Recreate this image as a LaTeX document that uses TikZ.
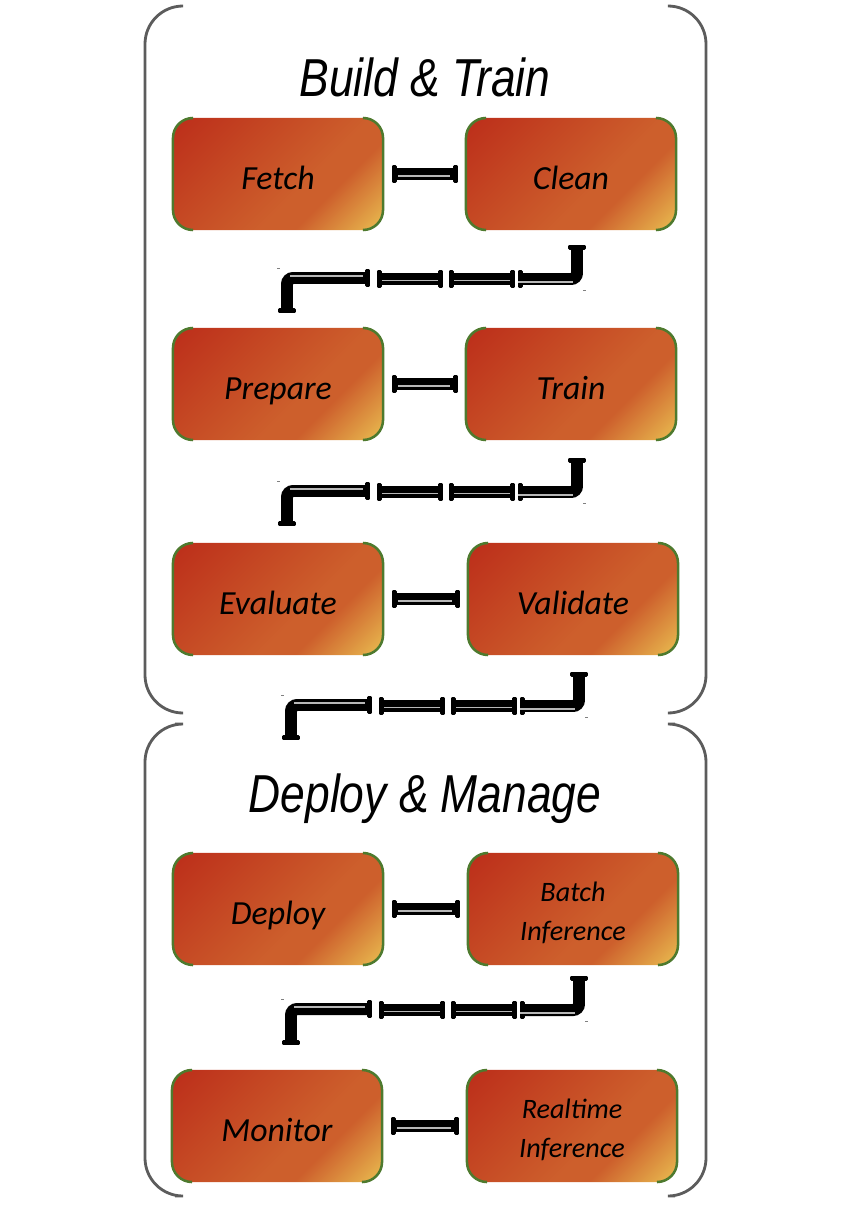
\documentclass[tikz,border=0pt]{standalone}
\usepackage{fontspec}
\usetikzlibrary{arrows.meta}
\newfontfamily\titlefont[FakeStretch=0.83]{Liberation Sans}
\newfontfamily\boxfont{Carlito}
\definecolor{boxred}{HTML}{BC2E1A}
\definecolor{boxorange}{HTML}{CD5F2C}
\definecolor{boxyellow}{HTML}{E6B24C}
\definecolor{rimgreen}{HTML}{4E7A2E}
\definecolor{bracketgray}{HTML}{5C5C5C}
\pgfdeclarehorizontalshading{boxfill}{100bp}{color(0bp)=(boxred); color(15bp)=(boxred); color(58bp)=(boxorange); color(66bp)=(boxorange); color(83bp)=(boxyellow); color(100bp)=(boxyellow)}
\newcommand{\firstline}[1]{\rule{0pt}{19pt}#1}
\tikzset{
  stepbox/.style={minimum width=5.25cm, minimum height=2.8cm, inner sep=0pt, outer sep=0pt,
    rounded corners=0.5cm, shading=boxfill, shading angle=-45, align=center,
    text height=23pt, text depth=1.6pt,
    font=\boxfont\itshape\fontsize{24}{28}\selectfont},
  smallbox/.style={minimum width=5.25cm, minimum height=2.8cm, inner sep=0pt, outer sep=0pt,
    rounded corners=0.5cm, shading=boxfill, shading angle=-45, align=center,
    font=\boxfont\itshape\fontsize{20}{28}\selectfont},
  rim/.style={draw=rimgreen, line width=1.8pt, rounded corners=0.5cm},
  pipe/.style={draw=black, line width=8.5pt, rounded corners=0.15cm,
    {Rectangle[length=3.5pt,width=12.5pt,round]}-{Rectangle[length=3.5pt,width=12.5pt,round]}},
  glint/.style={draw=black!28, line width=1.2pt},
  bracket/.style={draw=bracketgray, line width=2pt, rounded corners=0.95cm},
  grouptitle/.style={font=\titlefont\itshape\fontsize{38}{44}\selectfont},
  speck/.style={draw=black!50, line width=0.4pt}
}
\newcommand{\rimbox}[1]{%
  \draw[rim] ([shift={(20,0)}]#1.north west) -- (#1.north west) -- (#1.south west) -- ([shift={(20,0)}]#1.south west);
  \draw[rim] ([shift={(-20,0)}]#1.north east) -- (#1.north east) -- (#1.south east) -- ([shift={(-20,0)}]#1.south east);
}
\newcommand{\pipejoin}[2]{%
  \draw[pipe, shorten <=6.4pt, shorten >=5.7pt] (#1) -- (#2);
  \draw[glint] ([shift={(15,2)}]#1.east) -- ([shift={(-16,2)}]#2.west);
}
\newcommand{\pipeelbow}[4]{%
  \coordinate (#1hi) at ([shift={(6,#3)}]#1.south);
  \coordinate (#2lo) at ([shift={#4}]#2.north);
  \coordinate (#1row) at ([shift={(0,34)}]#1hi);
  \draw[pipe] (#1hi) -- (#1row) -- ([shift={(-59,0)}]#1row);
  \draw[glint] ([shift={(-59,3)}]#1row) -- ([shift={(-4,3)}]#1row);
  \foreach \rgt/\lft in {-62/-128,-134/-200}{
    \draw[pipe] ([shift={(\rgt,0)}]#1row) -- ([shift={(\lft,0)}]#1row);
    \draw[glint] ([shift={(\rgt-5,1.5)}]#1row) -- ([shift={(\lft+5,1.5)}]#1row);
  }
  \coordinate (#2row) at (#2lo |- #1row);
  \draw[pipe] (#2lo) -- ([shift={(0,-1)}]#2row) -- ([shift={(-207,-1)}]#1row);
  \draw[glint] ([shift={(3,-3)}]#2row) -- ([shift={(-214,-3)}]#1row);
  \draw[speck] ([shift={(-10,-11)}]#2row) -- ([shift={(-7,-11)}]#2row);
  \draw[speck] ([shift={(6,11)}]#1row) -- ([shift={(9,11)}]#1row);
}
\begin{document}
\begin{tikzpicture}[x=0.025cm, y=-0.025cm]
  \useasboundingbox (0,0) rectangle (852,1210);

  \draw[bracket] (181,6) -- (145,6) -- (145,713) -- (181,713);
  \draw[bracket] (670,6) -- (706,6) -- (706,713) -- (670,713);
  \draw[bracket] (175,724) -- (145,724) -- (145,1196) -- (175,1196);
  \draw[bracket] (675,724) -- (706,724) -- (706,1196) -- (675,1196);

  \node[grouptitle] (buildtitle) at (425,77) {Build \& Train};
  \node[grouptitle] (deploytitle) at (425,799) {Deploy \& Manage};

  \node[stepbox] (fetch) at (278,174) {Fetch};
  \node[stepbox] (clean) at (571,174) {Clean};
  \node[stepbox] (prepare) at (278,384) {Prepare};
  \node[stepbox] (train) at (571,384) {Train};
  \node[stepbox] (evaluate) at (278,599) {Evaluate};
  \node[stepbox] (validate) at (573,599) {Validate};
  \node[stepbox] (deploy) at (278,909) {Deploy};
  \node[smallbox] (batch) at (573,909) {\firstline{Batch}\\Inference};
  \node[stepbox] (monitor) at (277,1126) {Monitor};
  \node[smallbox] (realtime) at (572,1126) {\firstline{Realtime}\\Inference};

  \foreach \boxname in {fetch,clean,prepare,train,evaluate,validate,deploy,batch,monitor,realtime}{
    \rimbox{\boxname}
  }

  \pipejoin{fetch}{clean}
  \pipejoin{prepare}{train}
  \pipejoin{evaluate}{validate}
  \pipejoin{deploy}{batch}
  \pipejoin{monitor}{realtime}

  \pipeelbow{clean}{prepare}{15}{(9,-15)}
  \pipeelbow{train}{evaluate}{18}{(9,-17)}
  \pipeelbow{validate}{deploy}{17}{(13,-113)}
  \pipeelbow{batch}{monitor}{11}{(14,-25)}
\end{tikzpicture}
\end{document}
